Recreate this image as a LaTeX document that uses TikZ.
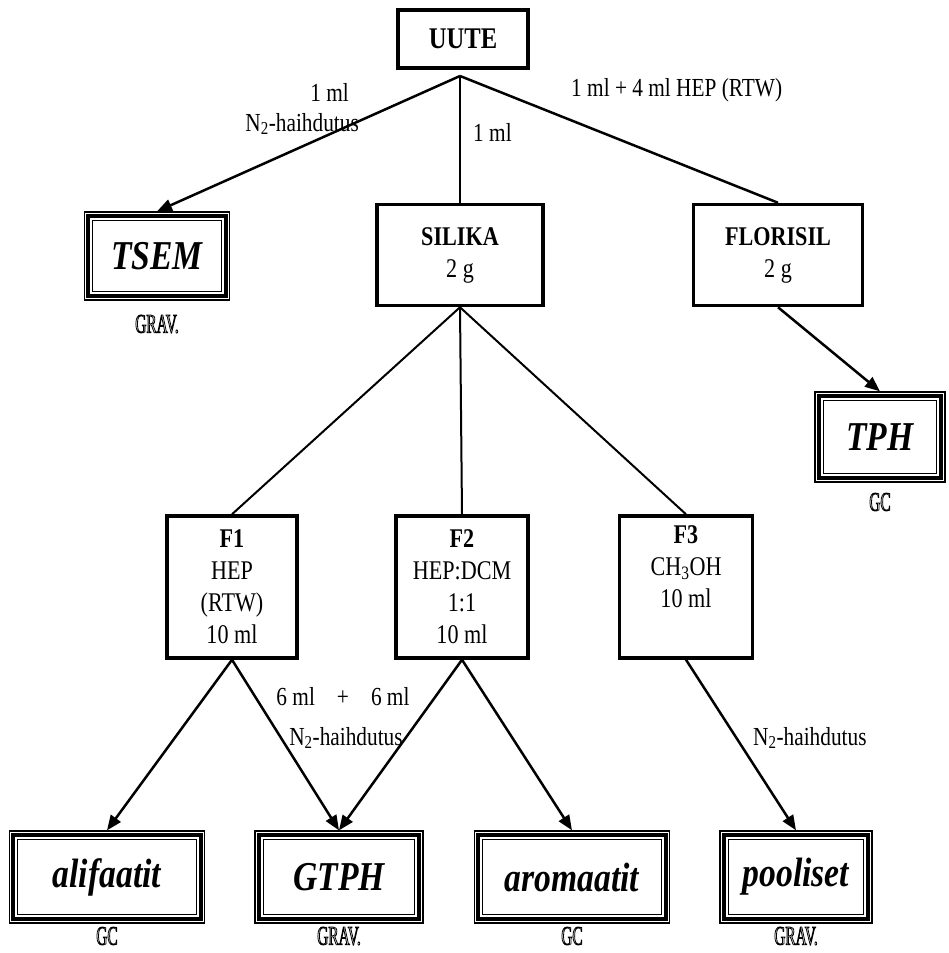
\documentclass[tikz,border=0pt]{standalone}
\usepackage{fontspec}
\setmainfont{Liberation Serif}[FakeStretch=0.82]
\newfontfamily\hollowfont{Liberation Serif}[FakeStretch=0.57]
\usetikzlibrary{arrows.meta}
\newcommand{\hollow}[1]{\special{pdf:literal direct q 1 Tr 0.8 w}#1\special{pdf:literal direct Q}}
\tikzset{
  stage/.style={rectangle, draw=black, line width=3.5pt, inner sep=0pt, align=center, font=\fontsize{27}{32}\selectfont},
  result/.style={rectangle, draw=black, line width=1.3pt, inner sep=0pt, font=\fontsize{41}{46}\selectfont\bfseries\itshape},
  method/.style={inner sep=0pt, font=\hollowfont\fontsize{27}{29}\selectfont},
  note/.style={inner sep=1pt, font=\fontsize{26}{30}\selectfont},
  link/.style={line width=2pt},
  arrow/.style={-{Triangle[length=15pt,width=12pt]}, line width=2.5pt},
}

\begin{document}
\begin{tikzpicture}[x=1pt,y=-1pt]
\useasboundingbox (0,0) rectangle (949,953);
% extraction and clean-up
\node[stage, minimum width=130pt, minimum height=58pt, font=\fontsize{30}{34}\selectfont\bfseries] (uute) at (463,39) {UUTE};
\coordinate (fork) at (460,76);
\node[result, minimum width=145pt, minimum height=88pt] (tsem) at (157,256) {TSEM};
\node[stage, minimum width=166pt, minimum height=101pt] (silika) at (460,255) {\textbf{SILIKA}\\2 g};
\node[stage, minimum width=169pt, minimum height=101pt] (florisil) at (778,255) {\textbf{FLORISIL}\\2 g};
\node[result, minimum width=130pt, minimum height=90pt] (tph) at (880,437) {TPH};
% fractions
\node[stage, minimum width=130pt, minimum height=142pt] (f1) at (232,587) {\textbf{F1}\\HEP\\(RTW)\\10 ml};
\node[stage, minimum width=132pt, minimum height=142pt] (f2) at (462,587) {\textbf{F2}\\HEP:DCM\\1:1\\10 ml};
\node[stage, minimum width=133pt, minimum height=142pt] (f3) at (686,587) {\textbf{F3}\\CH\textsubscript{3}OH\\10 ml\\\strut};
% results
\node[result, minimum width=195pt, minimum height=92pt] (alif) at (107,877) {alifaatit};
\node[result, minimum width=168pt, minimum height=92pt] (gtph) at (339,877) {GTPH};
\node[result, minimum width=195pt, minimum height=92pt] (arom) at (572,877) {aromaatit};
\node[result, minimum width=152pt, minimum height=92pt] (pool) at (796,877) {pooliset};
\foreach \r in {tsem,tph,alif,gtph,arom,pool}{
  \draw[line width=3.8pt] ([xshift=4.5pt,yshift=-4.5pt]\r.north west) rectangle ([xshift=-4.5pt,yshift=4.5pt]\r.south east);
  \draw[line width=1.2pt] ([xshift=9pt,yshift=-9pt]\r.north west) rectangle ([xshift=-9pt,yshift=9pt]\r.south east);
}
% methods
\node[method] (tsemm) at (157,324) {\hollow{GRAV.}};
\node[method] (tphm) at (880,502) {\hollow{GC}};
\node[method] (alifm) at (107,936) {\hollow{GC}};
\node[method] (gtphm) at (339,936) {\hollow{GRAV.}};
\node[method] (aromm) at (572,936) {\hollow{GC}};
\node[method] (poolm) at (796,936) {\hollow{GRAV.}};
% connectors
\draw[arrow] (fork) -- (tsem.north);
\draw[link] (fork) -- (silika.north);
\draw[link, line width=2.5pt] (fork) -- (florisil.north);
\draw[arrow] (florisil.south) -- (tph.north);
\draw[link] (silika.south) -- (f1.north);
\draw[link] (silika.south) -- (f2.north);
\draw[link] (silika.south) -- (f3.north);
\draw[arrow] (f1.south) -- (alif.north);
\draw[arrow] (f1.south) -- (gtph.north);
\draw[arrow] (f2.south) -- (gtph.north);
\draw[arrow] (f2.south) -- (arom.north);
\draw[arrow] (f3.south) -- (pool.north);
% labels
\node[note, anchor=east] (tsema) at (350,92) {1 ml};
\node[note, anchor=east] (tsemb) at (360,124) {N\textsubscript{2}-haihdutus};
\node[note, anchor=west] (silikaa) at (472,132) {1 ml};
\node[note, anchor=west] (florisila) at (570,90) {1 ml + 4 ml HEP (RTW)};
\node[note] (gtpha) at (343,697) {6 ml\hspace{22pt}+\hspace{22pt}6 ml};
\node[note] (gtphb) at (346,738) {N\textsubscript{2}-haihdutus};
\node[note, anchor=west] (poola) at (752,738) {N\textsubscript{2}-haihdutus};
\end{tikzpicture}
\end{document}
